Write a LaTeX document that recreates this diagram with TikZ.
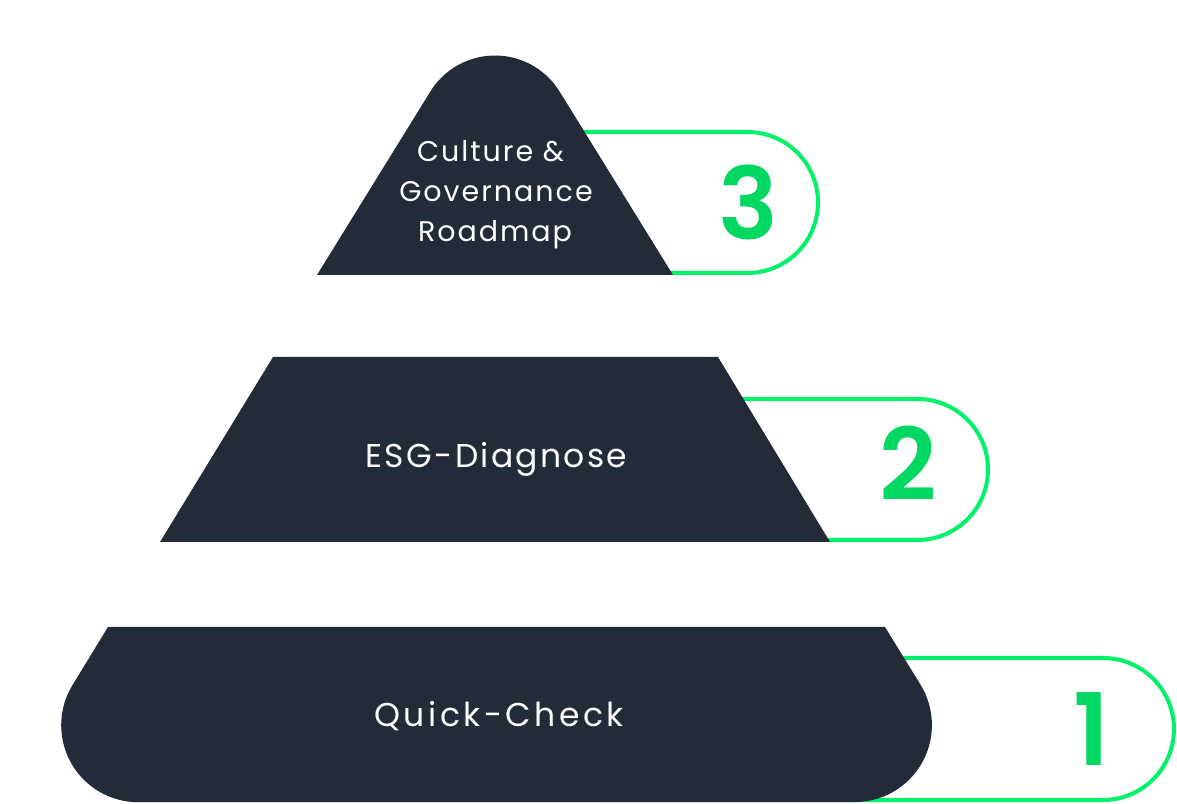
\documentclass[tikz,border=0pt]{standalone}
\usepackage{fontspec}
\usepackage{xcolor}
\usetikzlibrary{positioning}
\setmainfont{Poppins}
\newfontfamily\labelfont[LetterSpace=7]{Poppins}
\newfontfamily\wideLabelfont[LetterSpace=10.5]{Poppins}
\newfontfamily\numfont{Poppins SemiBold}
\definecolor{deep}{HTML}{232A38}
\definecolor{rim}{HTML}{00F26A}
\definecolor{leaf}{HTML}{00D862}

\begin{document}
\begin{tikzpicture}[x=1pt, y=1pt,
  tier/.style={fill=deep},
  badge/.style={draw=rim, line width=4pt},
  num/.style={text=leaf, inner sep=0pt, font=\numfont\fontsize{100}{100}\selectfont},
  lab/.style={text=white, inner sep=0pt, anchor=base, font=\labelfont\fontsize{33}{40}\selectfont},
  labs/.style={lab, font=\labelfont\fontsize{28.5}{40}\selectfont}]
\useasboundingbox[fill=white] (0,0) rectangle (1177,803);
% green badges behind the tiers
\draw[badge] (450,671) -- (747.5,671) arc[start angle=90, end angle=-90, radius=70.5] -- (450,530);
\draw[badge] (400,404) -- (917.5,404) arc[start angle=90, end angle=-90, radius=70.5] -- (400,263);
\draw[badge] (600,145) -- (1103,145) arc[start angle=90, end angle=-90, radius=71] -- (600,3);
% tiers
\fill[tier] (317,528) -- (430.3,711.4) arc[start angle=148.3, end angle=31.7, radius=76] -- (673,528) -- cycle;
\fill[tier] (273,446) -- (718,446) -- (830,261) -- (160,261) -- cycle;
\fill[tier] (108,176) -- (72.5,117.9) arc[start angle=148.6, end angle=270, radius=77]
  -- (854.9,1) arc[start angle=270, end angle=391.4, radius=77] -- (885,176) -- cycle;
% labels
\node[labs] (culture) at (490.5,641) {Culture \&};
\node[labs] (governance) at (496,601) {Governance};
\node[labs] (roadmap) at (495,561) {Roadmap};
\node[lab] (esg) at (496.5,335) {ESG-Diagnose};
\node[lab, font=\wideLabelfont\fontsize{33}{40}\selectfont] (quick) at (499,77) {Quick-Check};
% step numbers
\node[num] (n3) at (748,601) {3};
\node[num] (n2) at (908,340) {2};
\node[num] (n1) at (1092,74) {1};
\end{tikzpicture}
\end{document}
